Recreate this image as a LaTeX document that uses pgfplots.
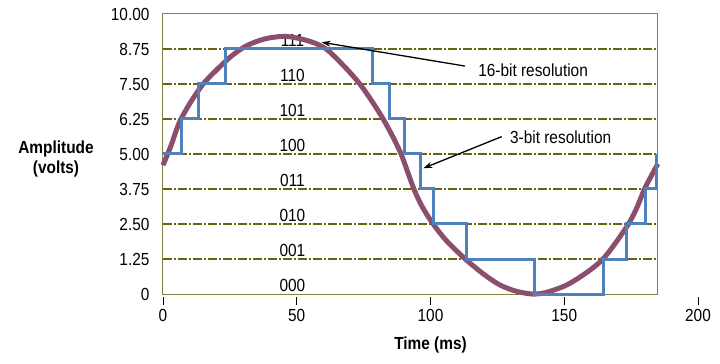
\documentclass[border=0pt]{standalone}
\usepackage{fontspec}
\setmainfont{Liberation Sans}[FakeStretch=0.88]
\usepackage{pgfplots}
\pgfplotsset{compat=1.18}
\usetikzlibrary{arrows.meta}
\definecolor{curvec}{RGB}{139,78,108}
\definecolor{stepc}{RGB}{79,129,189}
\definecolor{gridc}{RGB}{100,100,20}
\definecolor{boxc}{RGB}{128,128,64}
\newcommand\cf{\fontsize{17.5}{20}\selectfont}
\begin{document}
\begin{tikzpicture}[x=1pt,y=1pt]
\path[use as bounding box] (0,0) rectangle (720,364);
\begin{axis}[
  at={(163pt,70pt)}, anchor=south west,
  scale only axis, width=535pt, height=280pt,
  xmin=0, xmax=200, ymin=0, ymax=10,
  axis line style={draw=none},
  clip=false,
  /pgf/number format/assume math mode=true,
  xtick={0,50,100,150,200},
  xticklabels={0,50,100,150,200},
  xtick pos=bottom, ytick pos=left,
  tick align=outside,
  major tick length=8pt,
  x tick style={black, line width=0.8pt, yshift=-3pt},
  xticklabel style={font=\cf, yshift=-4pt},
  ytick={0,1.25,2.5,3.75,5,6.25,7.5,8.75,10},
  yticklabels={0,1.25,2.50,3.75,5.00,6.25,7.50,8.75,10.00},
  y tick style={draw=none},
  yticklabel style={font=\cf, xshift=-2pt},
  xlabel={Time (ms)},
  xlabel style={font=\cf\bfseries, at={(axis description cs:0.5,-0.182)}, anchor=center},
  ylabel={Amplitude\\(volts)},
  ylabel style={font=\cf\bfseries, rotate=-90, align=center, at={(axis description cs:-0.2,0.482)}, anchor=center},
]
% grid lines
\pgfplotsinvokeforeach{1.25,2.5,3.75,5,6.25,7.5,8.75}{
  \draw[gridc, line width=1.6pt, dash pattern=on 9pt off 2pt on 2pt off 2pt] (axis cs:0,#1) -- (axis cs:184.7,#1);
}
\draw[boxc, line width=1pt] (axis cs:0,0) rectangle (axis cs:184.7,10);
% bit labels
\node[font=\cf, anchor=base, inner sep=0pt] at (axis cs:48.4,0.08) {000};
\node[font=\cf, anchor=base, inner sep=0pt] at (axis cs:48.4,1.33) {001};
\node[font=\cf, anchor=base, inner sep=0pt] at (axis cs:48.4,2.58) {010};
\node[font=\cf, anchor=base, inner sep=0pt] at (axis cs:48.4,3.83) {011};
\node[font=\cf, anchor=base, inner sep=0pt] at (axis cs:48.4,5.08) {100};
\node[font=\cf, anchor=base, inner sep=0pt] at (axis cs:48.4,6.33) {101};
\node[font=\cf, anchor=base, inner sep=0pt] at (axis cs:48.4,7.58) {110};
\node[font=\cf, anchor=base, inner sep=0pt] at (axis cs:48.4,8.83) {111};
% 16-bit curve
\addplot[curvec, line width=5pt, smooth, mark=none] coordinates {
(0,4.6) (3,5.3) (6,6.1) (10,6.8) (15,7.5) (20,8.0) (25,8.45) (30,8.8) (35,9.02) (40,9.15)
(46,9.2) (52,9.1) (57,8.95) (61,8.75) (65,8.4) (70,7.9) (74,7.45) (78,6.9) (82,6.3) (86,5.6)
(89,5.0) (91.5,4.35) (94,3.7) (97,3.1) (101,2.5) (106,1.9) (113,1.25) (120,0.7) (126,0.32)
(132,0.1) (138,0.0) (143,0.05) (150,0.28) (155,0.55) (160,0.88) (164.5,1.25) (169,1.8)
(174,2.5) (177,3.05) (180,3.75) (183,4.3) (185,4.65)
};
% 3-bit staircase
\addplot[stepc, line width=3pt, mark=none] coordinates {
(0,5) (7,5) (7,6.25) (13.2,6.25) (13.2,7.5) (23.5,7.5) (23.5,8.75) (78.4,8.75) (78.4,7.5)
(84.6,7.5) (84.6,6.25) (90.2,6.25) (90.2,5) (96.3,5) (96.3,3.75) (101,3.75) (101,2.5)
(113.3,2.5) (113.3,1.25) (138.8,1.25) (138.8,0) (164.6,0) (164.6,1.25) (173.3,1.25)
(173.3,2.5) (180.2,2.5) (180.2,3.75) (184.6,3.75) (184.6,5)
};
% annotations
\draw[black, line width=1.3pt, -{Stealth[length=9pt,width=6pt]}] (axis cs:112.9,8.14) -- (axis cs:59.3,8.99);
\node[font=\cf, anchor=west, inner sep=0pt] at (axis cs:117.8,8.0) {16-bit resolution};
\draw[black, line width=1.3pt, -{Stealth[length=9pt,width=6pt]}] (axis cs:126.6,5.62) -- (axis cs:97.3,4.49);
\node[font=\cf, anchor=west, inner sep=0pt] at (axis cs:129.7,5.59) {3-bit resolution};
\end{axis}
\end{tikzpicture}
\end{document}
